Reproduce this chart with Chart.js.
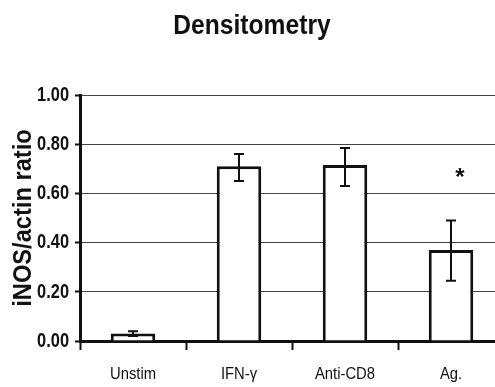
<!DOCTYPE html>
<html>
<head>
<meta charset="utf-8">
<script src="https://cdn.jsdelivr.net/npm/chart.js@4/dist/chart.umd.min.js"></script>
<style>
html,body{margin:0;padding:0;background:#fff;overflow:hidden;width:495px;height:387px;}
#wrap{width:505px;height:387px;}
</style>
</head>
<body>
<div id="wrap"><canvas id="c" width="505" height="387"></canvas></div>
<script>
const categories = ['Unstim', 'IFN-γ', 'Anti-CD8', 'Ag.'];
const ratioValues = [0.03, 0.71, 0.715, 0.37];
const errorHigh = [0.04, 0.76, 0.785, 0.49];
const errorLow = [0.02, 0.65, 0.63, 0.245];
const significance = ['', '', '', '*'];
const starLevel = 0.68;
const yTicks = [0, 0.2, 0.4, 0.6, 0.8, 1.0];

const sans = '"Liberation Sans", Arial, sans-serif';

// horizontal condensing of the lettering, keyed by font size
const condense = { '28px': 0.88, '21px': 0.78, '17px': 0.87, '26px': 0.91 };

const condensedTextPlugin = {
  id: 'condensedText',
  beforeInit(chart) {
    const ctx = chart.ctx;
    const orig = ctx.fillText.bind(ctx);
    ctx.fillText = function (text, x, y, maxW) {
      let sx = 1;
      for (const k in condense) { if (ctx.font.indexOf(k) !== -1) { sx = condense[k]; break; } }
      if (sx === 1) { return maxW !== undefined ? orig(text, x, y, maxW) : orig(text, x, y); }
      ctx.save();
      ctx.translate(x, y);
      ctx.scale(sx, 1);
      orig(text, 0, 0);
      ctx.restore();
    };
  }
};

const errorBarPlugin = {
  id: 'errorBars',
  afterDatasetsDraw(chart) {
    const ctx = chart.ctx;
    const meta = chart.getDatasetMeta(0);
    const y = chart.scales.y;
    ctx.save();
    ctx.strokeStyle = '#111';
    ctx.lineWidth = 2;
    meta.data.forEach((bar, i) => {
      const yh = y.getPixelForValue(errorHigh[i]);
      const yl = y.getPixelForValue(errorLow[i]);
      ctx.beginPath();
      ctx.moveTo(bar.x, yh); ctx.lineTo(bar.x, yl);
      ctx.moveTo(bar.x - 5, yh); ctx.lineTo(bar.x + 5, yh);
      ctx.moveTo(bar.x - 5, yl); ctx.lineTo(bar.x + 5, yl);
      ctx.stroke();
      if (significance[i]) {
        ctx.fillStyle = '#111';
        ctx.font = 'bold 24px ' + sans;
        ctx.textAlign = 'center';
        ctx.textBaseline = 'middle';
        ctx.fillText(significance[i], bar.x + 9, y.getPixelForValue(starLevel) + 5);
      }
    });
    ctx.restore();
  }
};

new Chart(document.getElementById('c'), {
  type: 'bar',
  data: {
    labels: categories,
    datasets: [{
      data: ratioValues,
      backgroundColor: '#fff',
      borderColor: '#111',
      borderWidth: 3,
      borderSkipped: 'start',
      barPercentage: 0.42,
      categoryPercentage: 1.0
    }]
  },
  options: {
    responsive: false,
    animation: false,
    layout: { padding: { left: 0, right: 1, top: 0, bottom: 0 } },
    plugins: {
      legend: { display: false },
      tooltip: { enabled: false },
      title: {
        display: true,
        text: 'Densitometry',
        color: '#111',
        font: { family: sans, size: 28, weight: 'bold', lineHeight: 1.2 },
        padding: { top: 9, bottom: 52.4 }
      }
    },
    scales: {
      x: {
        afterFit(s) { s.height = 46; },
        border: { display: true, color: '#111', width: 3 },
        grid: { display: true, drawOnChartArea: false, drawTicks: true, tickLength: 9, tickWidth: 2, tickColor: '#111', offset: true },
        ticks: { color: '#111', padding: 14, font: { family: sans, size: 17 } }
      },
      y: {
        min: 0, max: 1,
        afterFit(s) { s.width = 80; },
        afterBuildTicks(s) { s.ticks = yTicks.map(v => ({ value: v })); },
        border: { display: true, color: '#111', width: 3 },
        grid: { color: '#444', lineWidth: 1, borderDash: [5, 2], tickBorderDash: [], drawTicks: true, tickLength: 5, tickWidth: 2, tickColor: '#111' },
        ticks: { color: '#111', padding: 6, font: { family: sans, size: 21, weight: 'bold' }, callback: v => Number(v).toFixed(2) },
        title: { display: true, text: 'iNOS/actin ratio', color: '#111', padding: { top: 8, bottom: 0 }, font: { family: sans, size: 26, weight: 'bold' } }
      }
    }
  },
  plugins: [condensedTextPlugin, errorBarPlugin]
});
</script>
</body>
</html>
